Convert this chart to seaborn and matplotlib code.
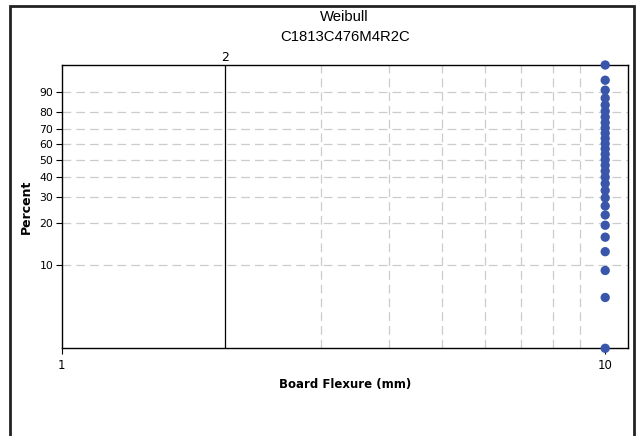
import numpy as np
import matplotlib
matplotlib.use("Agg")
import matplotlib.pyplot as plt
from matplotlib.patches import Rectangle
import seaborn as sns

# ---- data ----
flexure = [10.0] * 29
percent = [2.38, 5.78, 9.18, 12.59, 15.99, 19.39, 22.79, 26.19, 29.59, 32.99,
           36.39, 39.80, 43.20, 46.60, 50.00, 53.40, 56.80, 60.20, 63.61, 67.01,
           70.41, 73.81, 77.21, 80.61, 84.01, 87.41, 90.82, 94.22, 97.62]
y_ticks = [10, 20, 30, 40, 50, 60, 70, 80, 90]
x_ticks = [1, 10]
x_grid = [3, 4, 5, 6, 7, 8, 9]
ref_line = 2
title_lines = ["Weibull", "C1813C476M4R2C"]
x_label = "Board Flexure (mm)"
y_label = "Percent"

sns.set_style("white")
plt.rcParams['font.family'] = ['DejaVu Sans']
plt.rcParams['text.color'] = 'black'
plt.rcParams['axes.labelcolor'] = 'black'
plt.rcParams['xtick.color'] = 'black'
plt.rcParams['ytick.color'] = 'black'

fig = plt.figure(figsize=(6.42, 4.36), dpi=100)
ax = fig.add_axes([61.7/642, 1-348.3/436, (627.7-61.7)/642, (348.3-65)/436])


def fwd(p):
    p = np.clip(np.asarray(p, dtype=float) / 100.0, 1e-9, 1 - 1e-9)
    return np.log(-np.log(1 - p))


def inv(w):
    return 100.0 * (1 - np.exp(-np.exp(np.asarray(w, dtype=float))))


ax.set_xscale('log')
ax.set_yscale('function', functions=(fwd, inv))
ax.set_xlim(1, 11.0)
ax.set_ylim(min(percent), max(percent))

for v in y_ticks:
    ax.axhline(v, color='#cccccc', lw=0.9, ls=(0, (7, 4)), zorder=0)
for v in x_grid:
    ax.axvline(v, color='#cccccc', lw=0.9, ls=(0, (7, 4)), zorder=0)
ax.axvline(ref_line, color='black', lw=0.9, zorder=1)
ax.text(ref_line, 1.005, str(ref_line), transform=ax.get_xaxis_transform(),
        ha='center', va='bottom', fontsize=9, color='black')

sns.scatterplot(x=flexure, y=percent, ax=ax, color='#3a56aa', s=45,
                edgecolor='none', linewidth=0, clip_on=False, zorder=5)

ax.set_yticks(y_ticks)
ax.set_yticklabels([str(v) for v in y_ticks], fontsize=7.8)
ax.set_xticks(x_ticks)
ax.set_xticklabels([str(v) for v in x_ticks], fontsize=8.5)
ax.minorticks_off()
ax.xaxis.set_minor_locator(matplotlib.ticker.NullLocator())
ax.yaxis.set_minor_locator(matplotlib.ticker.NullLocator())
ax.tick_params(axis='both', direction='out', length=4, width=0.8, color='black',
               labelcolor='black', left=True, bottom=True, pad=2)
ax.tick_params(axis='x', pad=4)

for s in ax.spines.values():
    s.set_color('black')
    s.set_linewidth(1.0)

ax.set_xlabel(x_label, fontsize=8.5, fontweight='bold', labelpad=4, color='black')
ax.set_ylabel(y_label, fontsize=9, fontweight='bold', labelpad=5, color='black')

cx = (61.7 + 627.7) / 2 / 642
fig.text(cx, 1 - 17/436, title_lines[0], ha='center', va='center', fontsize=10.7,
         family=['Liberation Sans'], color='black')
fig.text(cx, 1 - 37/436, title_lines[1], ha='center', va='center', fontsize=10.7,
         family=['Liberation Sans'], color='black')

fig.add_artist(Rectangle((9.5/642, -0.05), (633.5-9.5)/642, (436-6.5)/436 + 0.05,
                         transform=fig.transFigure, fill=False, lw=2,
                         edgecolor='#222222', clip_on=False))

fig.savefig('out.png', dpi=100)
